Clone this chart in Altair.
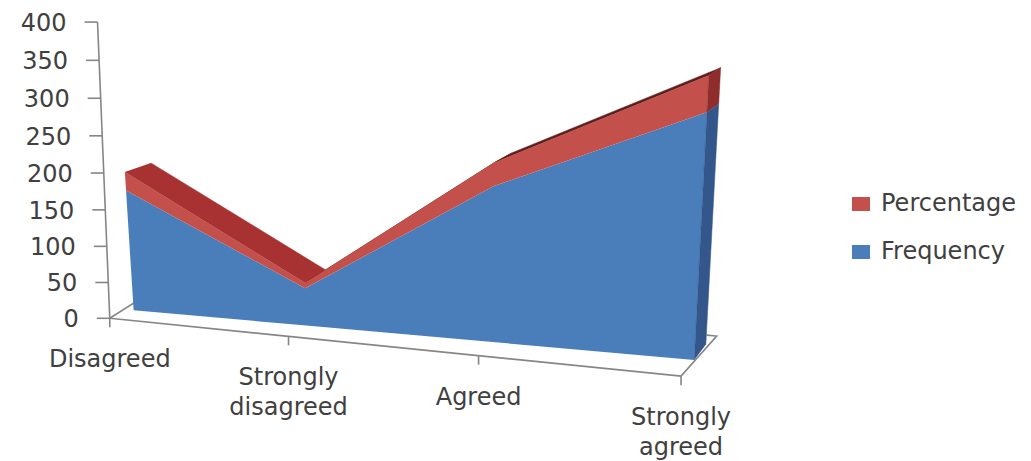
import altair as alt
import numpy as np
import pandas as pd

categories = ["Disagreed", "Strongly\ndisagreed", "Agreed", "Strongly\nagreed"]
frequency = [160, 49, 193, 290]
percentage = [24, 7, 28, 41]
axis_ticks = [0, 50, 100, 150, 200, 250, 300, 350, 400]

W, H = 1031, 461
FLOOR_FRONT, FLOOR_BACK = -0.6, 1.4
TEXT = "#404040"
GREY = "#868686"
FONT = "DejaVu Sans"

# Perspective cameras: (category index, value, depth, 1) -> homogeneous page position.
# The stacked solid and the axis frame sit a little apart, so each has its own.
AREA_CAMERA = np.array([
    [161.23192676, -0.06620190, 29.39411436, 133.63977118],
    [3.28596095, -0.77614028, -4.50786322, 310.22000524],
    [-0.03693143, -0.00014870, 0.02704968, 1.0],
])
FRAME_CAMERA = np.array([
    [168.21127001, -0.03936349, 29.99911990, 126.48846508],
    [8.02260511, -0.73399900, -11.51329889, 307.66903783],
    [-0.02934573, -0.00009313, 0.01945655, 1.0],
])


def project(i, v, z, camera=AREA_CAMERA):
    p = camera @ np.array([i, v, z, 1.0])
    return float(p[0] / p[2]), float(p[1] / p[2])


def polygon(name, corners, camera=AREA_CAMERA, **extra):
    rows = []
    for n, (i, v, z) in enumerate(corners):
        px, py = project(i, v, z, camera)
        rows.append({"face": name, "n": n, "px": px, "py": py, **extra})
    return rows


stack_top = [f + p for f, p in zip(frequency, percentage)]
idx = list(range(len(categories)))
last = idx[-1]

# Floor outline, vertical axis and tick marks
lines = polygon("floor", [(0, 0, FLOOR_BACK), (0, 0, FLOOR_FRONT), (last, 0, FLOOR_FRONT),
                          (last, 0, FLOOR_BACK), (last - 0.05, 0, FLOOR_BACK)], FRAME_CAMERA)
lines += polygon("axis", [(0, 400, FLOOR_FRONT), (0, 0, FLOOR_FRONT)], FRAME_CAMERA)
axis_labels = []
for t in axis_ticks:
    px, py = project(0, t, FLOOR_FRONT, FRAME_CAMERA)
    lines += [{"face": f"tick{t}", "n": 0, "px": px, "py": py},
              {"face": f"tick{t}", "n": 1, "px": px - 13, "py": py}]
    axis_labels.append({"label": str(t), "px": px - 31, "py": py + 2})
cat_labels = []
for i, name in zip(idx, categories):
    px, py = project(i, 0, FLOOR_FRONT, FRAME_CAMERA)
    lines += [{"face": f"cat{i}", "n": 0, "px": px, "py": py},
              {"face": f"cat{i}", "n": 1, "px": px, "py": py + 9}]
    cat_labels.append({"label": name, "px": px, "py": py + 30})

# Upper surface of the stack, one strip per segment
tops = []
strip_colors = ["#a83231", "#6a2220", "#5e1e1c"]
for i in idx[:-1]:
    tops += polygon(f"top{i}", [(i, stack_top[i], 0), (i + 1, stack_top[i + 1], 0),
                                (i + 1, stack_top[i + 1], 1), (i, stack_top[i], 1)],
                    color=strip_colors[i])

# Front faces of the two stacked series
front = []
front += polygon("Frequency",
                 [(i, 0, 0) for i in idx] + [(i, frequency[i], 0) for i in reversed(idx)],
                 series="Frequency")
front += polygon("Percentage",
                 [(i, frequency[i], 0) for i in idx] + [(i, stack_top[i], 0) for i in reversed(idx)],
                 series="Percentage")

# End caps on the right-hand side
sides = polygon("capBlue", [(last, 0, 0), (last, frequency[last], 0),
                            (last, frequency[last], 1), (last, 0, 1)], color="#33578a")
sides += polygon("capRed", [(last, frequency[last], 0), (last, stack_top[last], 0),
                            (last, stack_top[last], 1), (last, frequency[last], 1)], color="#8f2c2c")

x = alt.X("px:Q", scale=alt.Scale(domain=[0, W], nice=False, zero=False), axis=None)
y = alt.Y("py:Q", scale=alt.Scale(domain=[H, 0], nice=False, zero=False), axis=None)

line_layer = alt.Chart(pd.DataFrame(lines)).mark_line(color=GREY, strokeWidth=1.6).encode(
    x=x, y=y, detail="face:N", order="n:Q")
top_layer = alt.Chart(pd.DataFrame(tops)).mark_line(strokeWidth=0.5).encode(
    x=x, y=y, detail="face:N", order="n:Q",
    fill=alt.Fill("color:N", scale=None), stroke=alt.Stroke("color:N", scale=None))
front_layer = alt.Chart(pd.DataFrame(front)).mark_line(strokeWidth=0).encode(
    x=x, y=y, detail="face:N", order="n:Q",
    fill=alt.Fill("series:N",
                  scale=alt.Scale(domain=["Percentage", "Frequency"], range=["#c4504c", "#4a7ebb"]),
                  legend=alt.Legend(title=None, orient="none", legendX=849, legendY=192,
                                    symbolType="M-1,-0.78H1V0.78H-1Z", symbolSize=324,
                                    symbolStrokeWidth=0, labelFont=FONT, labelFontSize=24,
                                    labelColor=TEXT, labelOffset=8, rowPadding=24,
                                    labelLimit=200)))
side_layer = alt.Chart(pd.DataFrame(sides)).mark_line(strokeWidth=0.5).encode(
    x=x, y=y, detail="face:N", order="n:Q",
    fill=alt.Fill("color:N", scale=None), stroke=alt.Stroke("color:N", scale=None))
axis_text = alt.Chart(pd.DataFrame(axis_labels)).mark_text(
    font=FONT, fontSize=24, color=TEXT, align="right", baseline="middle").encode(
    x=x, y=y, text="label:N")
cat_text = alt.Chart(pd.DataFrame(cat_labels)).mark_text(
    font=FONT, fontSize=24, color=TEXT, align="center", baseline="top",
    lineBreak="\n", lineHeight=30).encode(x=x, y=y, text="label:N")

chart = alt.layer(line_layer, top_layer, front_layer, side_layer, axis_text, cat_text).properties(
    width=W, height=H, padding=0, autosize=alt.AutoSizeParams(type="none")
).resolve_scale(fill="independent", stroke="independent").configure_view(stroke=None)

chart.save("out.html", embed_options={"renderer": "svg", "actions": False})
